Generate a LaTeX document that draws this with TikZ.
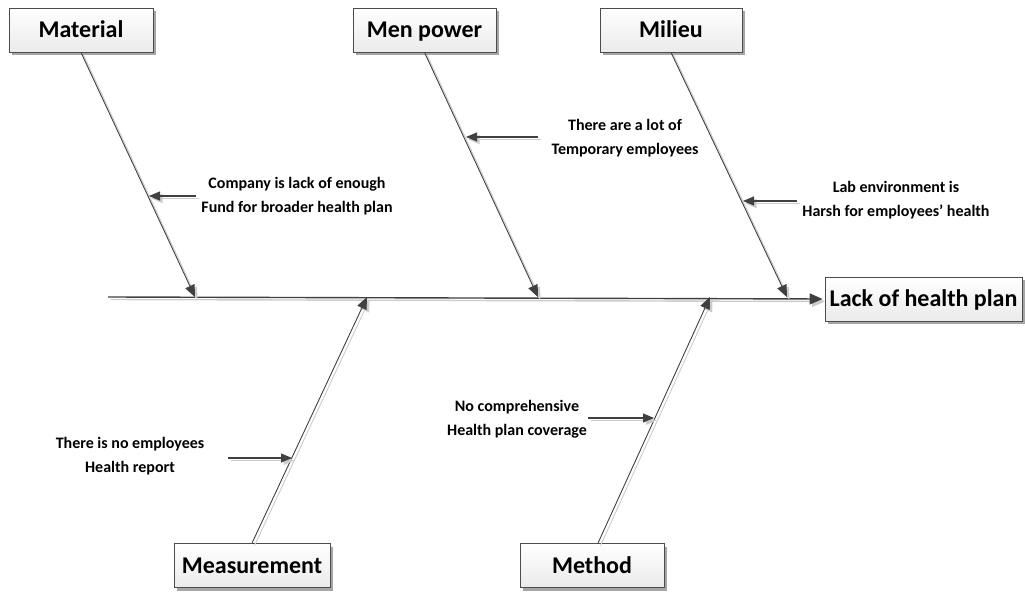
\documentclass[tikz,border=0pt]{standalone}
\usepackage{fontspec}
\setmainfont{Carlito}
\usetikzlibrary{arrows.meta,shadows}

% draw a path twice: a light offset copy as its shadow, then the path itself
\newcommand\shadowdraw[2]{%
  \draw[#1, draw=black!20, transform canvas={shift={(2.5pt,-2.5pt)}}] #2;
  \draw[#1] #2;}

\begin{document}
\begin{tikzpicture}[x=1pt,y=-1pt,
  cause/.style={draw=black!70, line width=0.8pt, top color=white, bottom color=black!8,
    font=\fontsize{24}{28}\selectfont\bfseries, minimum height=44pt, inner sep=0pt,
    text height=19pt, text depth=3pt,
    drop shadow={shadow xshift=3pt, shadow yshift=-3pt, fill=black!35, opacity=1}},
  note/.style={font=\fontsize{16}{24}\selectfont\bfseries, align=center, inner sep=0pt},
  bone/.style={draw=black!75, line width=0.9pt, -{Triangle[length=12pt,width=10pt]}},
  spine/.style={draw=black!75, line width=1.4pt, -{Triangle[length=13pt,width=11pt]}},
  pointer/.style={draw=black!75, line width=1.1pt, -{Triangle[length=11pt,width=9pt]}},
]
\useasboundingbox (0,0) rectangle (1025,593);

% cause boxes and effect box
\node[cause, minimum width=144pt] (material)    at (81,30)      {Material};
\node[cause, minimum width=143pt] (menpower)    at (424.5,30)   {Men power};
\node[cause, minimum width=142pt] (milieu)      at (671,30)     {Milieu};
\node[cause, minimum width=197pt] (effect)      at (923.5,299)  {Lack of health plan};
\node[cause, minimum width=156pt] (measurement) at (252,565.5)  {Measurement};
\node[cause, minimum width=144pt] (method)      at (592,565.5)  {Method};

% points on the spine
\coordinate (tail) at (108,297);
\coordinate (pMat) at (195,297);
\coordinate (pMen) at (538,297);
\coordinate (pMil) at (787,297);
\coordinate (pMea) at (367,297);
\coordinate (pMet) at (710,297);

% spine
\shadowdraw{spine, shorten >=2pt}{(tail) -- (effect.west)}

% main bones
\shadowdraw{bone}{(material.south) -- (pMat)}
\shadowdraw{bone}{(menpower.south) -- (pMen)}
\shadowdraw{bone}{(milieu.south) -- (pMil)}
\shadowdraw{bone}{(measurement.north) -- (pMea)}
\shadowdraw{bone}{([xshift=6pt]method.north) -- (pMet)}

% sub-cause notes
\node[note] (noteMat) at (297,196) {Company is lack of enough\\Fund for broader health plan};
\node[note] (noteMen) at (625,138) {There are a lot of\\Temporary employees};
\node[note] (noteMil) at (896,200) {Lab environment is\\Harsh for employees’ health};
\node[note] (noteMea) at (130,456) {There is no employees\\Health report};
\node[note] (noteMet) at (517,419) {No comprehensive\\Health plan coverage};

% pointers from notes to bones
\coordinate (aMat) at (196,196); \coordinate (bMat) at (149,196);
\coordinate (aMen) at (538,137); \coordinate (bMen) at (466,137);
\coordinate (aMil) at (797,201); \coordinate (bMil) at (743,201);
\coordinate (aMea) at (228,458); \coordinate (bMea) at (292,458);
\coordinate (aMet) at (588,418); \coordinate (bMet) at (654,418);
\shadowdraw{pointer}{(aMat) -- (bMat)}
\shadowdraw{pointer}{(aMen) -- (bMen)}
\shadowdraw{pointer}{(aMil) -- (bMil)}
\shadowdraw{pointer}{(aMea) -- (bMea)}
\shadowdraw{pointer}{(aMet) -- (bMet)}
\end{tikzpicture}
\end{document}
